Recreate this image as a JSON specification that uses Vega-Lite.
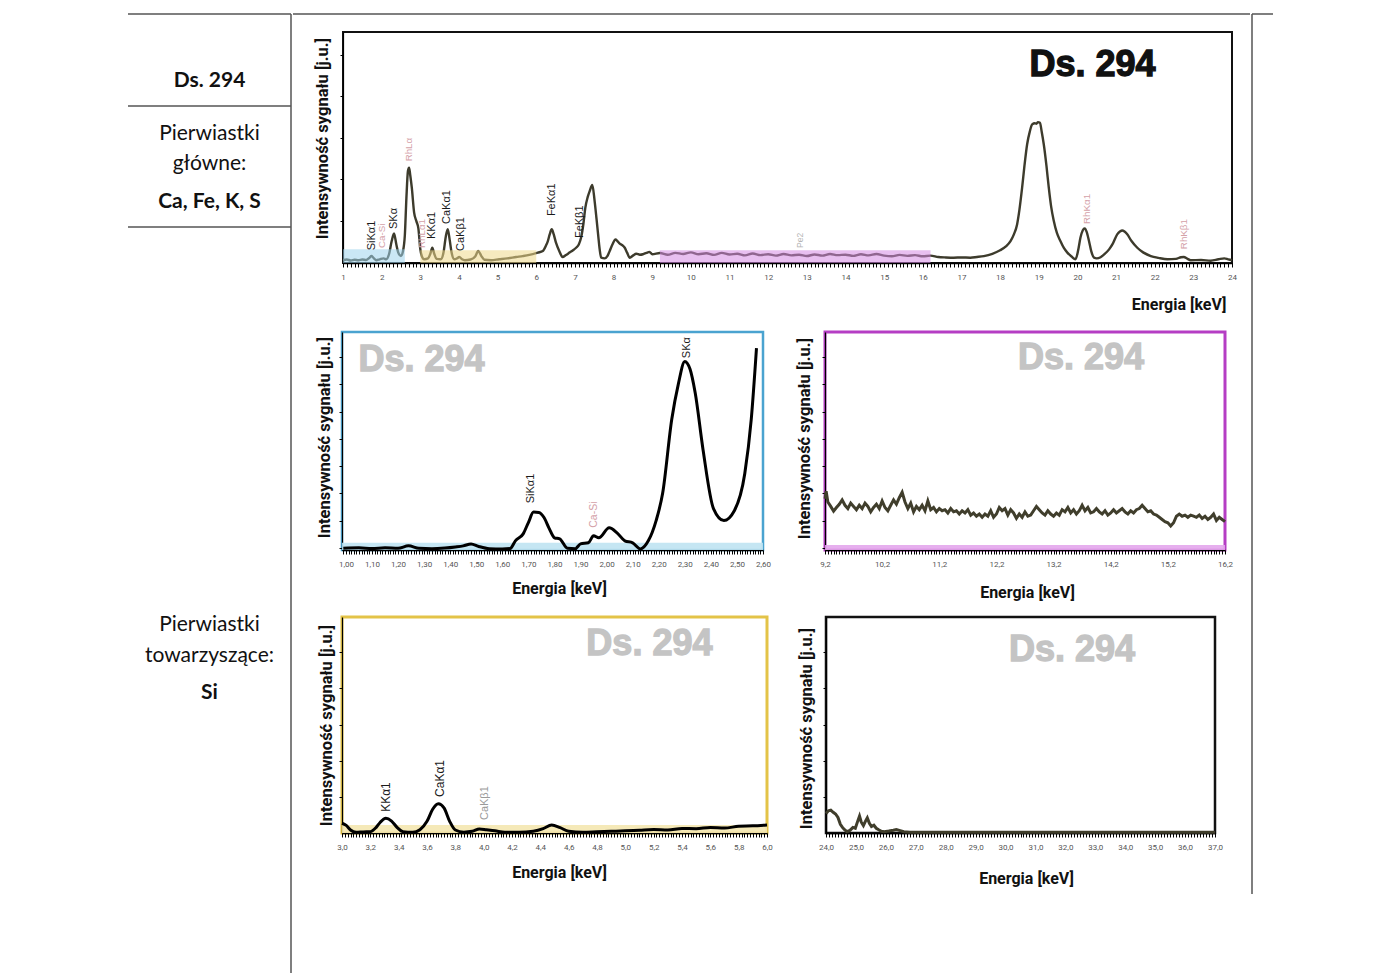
{
"$schema": "https://vega.github.io/schema/vega-lite/v6.json",
"padding": {"left": 127, "top": 13, "right": 0, "bottom": 0},
"background": "white",
"config": {"view": {"stroke": null}, "concat": {"spacing": 0}, "font": "Liberation Sans", "axis": {"grid": false}},
"spacing": 0,
"bounds": "full",
"hconcat": [
{
 "width": 163, "height": 960,
 "data": {"values": [{}]},
 "layer": [
  {"mark": {"type": "rule", "color": "#555", "strokeWidth": 1.5}, "encoding": {"y": {"datum": 0, "type": "quantitative", "scale": {"domain": [0, 960], "reverse": true}, "axis": null}}},
  {"mark": {"type": "rule", "color": "#555", "strokeWidth": 1.5}, "encoding": {"y": {"datum": 92, "type": "quantitative", "scale": {"domain": [0, 960], "reverse": true}, "axis": null}}},
  {"mark": {"type": "rule", "color": "#555", "strokeWidth": 1.5}, "encoding": {"y": {"datum": 213, "type": "quantitative", "scale": {"domain": [0, 960], "reverse": true}, "axis": null}}},
  {"mark": {"type": "rule", "color": "#555", "strokeWidth": 1.5}, "encoding": {"x": {"datum": 1, "type": "quantitative", "scale": {"domain": [0, 1]}, "axis": null}}},
  {"data": {"values": [{"t": "Ds. 294"}]}, "mark": {"type": "text", "font": "Lato", "fontSize": 21, "fontWeight": "bold", "color": "#111", "align": "center", "baseline": "middle"}, "encoding": {"text": {"field": "t"}, "x": {"datum": 0.5, "type": "quantitative", "scale": {"domain": [0, 1]}, "axis": null}, "y": {"datum": 67, "type": "quantitative", "scale": {"domain": [0, 960], "reverse": true}, "axis": null}}},
  {"data": {"values": [{"t": "Pierwiastki"}]}, "mark": {"type": "text", "font": "Lato", "fontSize": 21, "color": "#111", "align": "center", "baseline": "middle"}, "encoding": {"text": {"field": "t"}, "x": {"datum": 0.5, "type": "quantitative", "scale": {"domain": [0, 1]}, "axis": null}, "y": {"datum": 120, "type": "quantitative", "scale": {"domain": [0, 960], "reverse": true}, "axis": null}}},
  {"data": {"values": [{"t": "główne:"}]}, "mark": {"type": "text", "font": "Lato", "fontSize": 21, "color": "#111", "align": "center", "baseline": "middle"}, "encoding": {"text": {"field": "t"}, "x": {"datum": 0.5, "type": "quantitative", "scale": {"domain": [0, 1]}, "axis": null}, "y": {"datum": 150, "type": "quantitative", "scale": {"domain": [0, 960], "reverse": true}, "axis": null}}},
  {"data": {"values": [{"t": "Ca, Fe, K, S"}]}, "mark": {"type": "text", "font": "Lato", "fontSize": 21, "fontWeight": "bold", "color": "#111", "align": "center", "baseline": "middle"}, "encoding": {"text": {"field": "t"}, "x": {"datum": 0.5, "type": "quantitative", "scale": {"domain": [0, 1]}, "axis": null}, "y": {"datum": 188, "type": "quantitative", "scale": {"domain": [0, 960], "reverse": true}, "axis": null}}},
  {"data": {"values": [{"t": "Pierwiastki"}]}, "mark": {"type": "text", "font": "Lato", "fontSize": 21, "color": "#111", "align": "center", "baseline": "middle"}, "encoding": {"text": {"field": "t"}, "x": {"datum": 0.5, "type": "quantitative", "scale": {"domain": [0, 1]}, "axis": null}, "y": {"datum": 611, "type": "quantitative", "scale": {"domain": [0, 960], "reverse": true}, "axis": null}}},
  {"data": {"values": [{"t": "towarzyszące:"}]}, "mark": {"type": "text", "font": "Lato", "fontSize": 21, "color": "#111", "align": "center", "baseline": "middle"}, "encoding": {"text": {"field": "t"}, "x": {"datum": 0.5, "type": "quantitative", "scale": {"domain": [0, 1]}, "axis": null}, "y": {"datum": 642, "type": "quantitative", "scale": {"domain": [0, 960], "reverse": true}, "axis": null}}},
  {"data": {"values": [{"t": "Si"}]}, "mark": {"type": "text", "font": "Lato", "fontSize": 21, "fontWeight": "bold", "color": "#111", "align": "center", "baseline": "middle"}, "encoding": {"text": {"field": "t"}, "x": {"datum": 0.5, "type": "quantitative", "scale": {"domain": [0, 1]}, "axis": null}, "y": {"datum": 679, "type": "quantitative", "scale": {"domain": [0, 960], "reverse": true}, "axis": null}}}
 ]
},
{
 "spacing": 0,
 "bounds": "full",
 "vconcat": [
  {"width": 957, "height": 17, "data": {"values": [{}]}, "mark": {"type": "rule", "color": "#555", "strokeWidth": 1.5}, "encoding": {"y": {"datum": 1, "type": "quantitative", "scale": {"domain": [0, 1]}, "axis": null}}},
  {"spacing": 0, "bounds": "flush", "hconcat": [
   {"width": 50, "height": 298, "data": {"values": []}, "mark": "point", "encoding": {}},
   {
    "width": 889, "height": 231,
    "view": {"stroke": "#111", "strokeWidth": 2},
    "resolve": {"scale": {"color": "independent", "size": "independent"}},
    "encoding": {
     "x": {"field": "E", "type": "quantitative", "scale": {"domain": [1, 24], "nice": false, "zero": false},
       "axis": {"title": "Energia [keV]", "tickCount": 230, "tickSize": 4, "tickColor": "#000", "domainColor": "#000", "domainWidth": 1.5, "labelExpr": "abs(datum.value - round(datum.value)) < 0.001 ? format(datum.value, 'd') : ''", "labelOverlap": false, "labelFlush": false, "labelFont": "Roboto", "labelFontSize": 8, "labelColor": "#555", "labelPadding": 6, "titleFont": "Roboto", "titleFontSize": 16, "titleFontWeight": "bold", "titleColor": "#111", "titleX": 883, "titleY": 41, "titleAlign": "right", "titleBaseline": "middle"}},
     "y": {"field": "I", "type": "quantitative", "scale": {"domain": [0, 100], "nice": false, "zero": false},
       "axis": {"title": "Intensywność sygnału [j.u.]", "values": [18.2, 36.2, 54.2, 72.2, 90.2], "labels": false, "tickSize": 3, "tickColor": "#000", "domainColor": "#000", "domainWidth": 1.2, "titleFont": "Roboto", "titleFontSize": 16.5, "titleFontWeight": "bold", "titleColor": "#111", "titleX": -21, "titleY": 106, "titleAlign": "center", "titleBaseline": "middle", "titleAngle": 270}}
    },
    "layer": [
     {"data": {"values": [
      {"E":1.0,"I":1.2},{"E":1.1,"I":1.5},{"E":1.2,"I":1.1},{"E":1.3,"I":1.4},{"E":1.4,"I":1.2},{"E":1.5,"I":1.5},{"E":1.6,"I":1.3},{"E":1.68,"I":2.2},{"E":1.74,"I":3.0},{"E":1.8,"I":2.0},{"E":1.86,"I":1.2},{"E":1.95,"I":1.6},{"E":2.05,"I":2.0},{"E":2.12,"I":1.6},{"E":2.19,"I":3.8},{"E":2.26,"I":9.5},{"E":2.32,"I":12.8},{"E":2.38,"I":8},{"E":2.43,"I":4.5},{"E":2.5,"I":3.0},{"E":2.55,"I":5},{"E":2.6,"I":12},{"E":2.64,"I":28},{"E":2.68,"I":39.8},{"E":2.71,"I":41.3},{"E":2.74,"I":38},{"E":2.78,"I":32.6},{"E":2.84,"I":21.8},{"E":2.9,"I":18},{"E":2.95,"I":15},{"E":3.0,"I":6},{"E":3.05,"I":2.5},{"E":3.1,"I":1.6},{"E":3.2,"I":2.0},{"E":3.26,"I":4.0},{"E":3.31,"I":6.6},{"E":3.36,"I":4.0},{"E":3.42,"I":1.8},{"E":3.53,"I":1.6},{"E":3.6,"I":4.5},{"E":3.66,"I":11.5},{"E":3.71,"I":14.6},{"E":3.76,"I":10},{"E":3.81,"I":4.5},{"E":3.88,"I":1.6},{"E":3.95,"I":2.0},{"E":4.01,"I":2.6},{"E":4.08,"I":1.6},{"E":4.15,"I":1.2},{"E":4.3,"I":1.5},{"E":4.42,"I":2.8},{"E":4.5,"I":5.2},{"E":4.58,"I":3.0},{"E":4.66,"I":1.4},{"E":4.83,"I":1.2},{"E":5.04,"I":1.6},{"E":5.25,"I":2.0},{"E":5.48,"I":2.6},{"E":5.65,"I":3.0},{"E":5.82,"I":3.5},{"E":6.04,"I":4.5},{"E":6.17,"I":5.2},{"E":6.25,"I":7.5},{"E":6.3,"I":9.5},{"E":6.35,"I":12.5},{"E":6.4,"I":14.6},{"E":6.45,"I":12.5},{"E":6.51,"I":8.8},{"E":6.6,"I":5},{"E":6.68,"I":2.6},{"E":6.77,"I":3.5},{"E":6.86,"I":4.5},{"E":6.95,"I":5.5},{"E":7.03,"I":6.6},{"E":7.1,"I":8},{"E":7.16,"I":11},{"E":7.22,"I":17},{"E":7.27,"I":24},{"E":7.33,"I":28.5},{"E":7.38,"I":31},{"E":7.45,"I":33.8},{"E":7.51,"I":26.8},{"E":7.56,"I":19},{"E":7.6,"I":12.4},{"E":7.64,"I":6},{"E":7.68,"I":2.3},{"E":7.77,"I":2.0},{"E":7.84,"I":3.0},{"E":7.9,"I":5.2},{"E":7.97,"I":8},{"E":8.05,"I":10.2},{"E":8.1,"I":9.5},{"E":8.16,"I":8.4},{"E":8.22,"I":7.8},{"E":8.29,"I":6.6},{"E":8.35,"I":4.5},{"E":8.42,"I":2.3},{"E":8.5,"I":3.2},{"E":8.59,"I":4.0},{"E":8.68,"I":3.6},{"E":8.76,"I":3.8},{"E":8.85,"I":4.4},{"E":8.93,"I":4.8},
      {"E":9.0,"I":3.8},{"E":9.2,"I":4.3},{"E":9.4,"I":3.6},{"E":9.6,"I":4.4},{"E":9.8,"I":3.9},{"E":10.0,"I":4.6},{"E":10.2,"I":3.8},{"E":10.4,"I":4.2},{"E":10.6,"I":3.5},{"E":10.8,"I":4.4},{"E":11.0,"I":3.7},{"E":11.2,"I":4.0},{"E":11.4,"I":3.3},{"E":11.6,"I":4.1},{"E":11.8,"I":3.4},{"E":12.0,"I":3.8},{"E":12.2,"I":3.2},{"E":12.4,"I":3.9},{"E":12.6,"I":3.3},{"E":12.8,"I":3.6},{"E":13.0,"I":3.0},{"E":13.2,"I":3.7},{"E":13.4,"I":3.2},{"E":13.6,"I":3.9},{"E":13.8,"I":3.4},{"E":14.0,"I":3.6},{"E":14.2,"I":3.1},{"E":14.4,"I":3.8},{"E":14.6,"I":3.3},{"E":14.8,"I":3.9},{"E":15.0,"I":3.2},{"E":15.2,"I":2.9},{"E":15.4,"I":3.5},{"E":15.6,"I":3.1},{"E":15.8,"I":3.4},{"E":16.0,"I":2.9},{"E":16.2,"I":3.2},
      {"E":16.4,"I":2.6},{"E":16.6,"I":2.4},{"E":16.8,"I":2.3},{"E":17.0,"I":2.4},{"E":17.23,"I":2.3},{"E":17.4,"I":2.6},{"E":17.58,"I":3.0},{"E":17.8,"I":4.0},{"E":18.0,"I":5.5},{"E":18.15,"I":7.2},{"E":18.27,"I":9.5},{"E":18.36,"I":12.5},{"E":18.44,"I":16.7},{"E":18.5,"I":23},{"E":18.57,"I":32.6},{"E":18.63,"I":42},{"E":18.7,"I":51.4},{"E":18.77,"I":57},{"E":18.83,"I":60},{"E":18.9,"I":60.5},{"E":18.94,"I":60.3},{"E":18.98,"I":61},{"E":19.03,"I":60.7},{"E":19.08,"I":56.5},{"E":19.13,"I":51.4},{"E":19.2,"I":42},{"E":19.26,"I":32.6},{"E":19.32,"I":24.5},{"E":19.39,"I":18.2},{"E":19.47,"I":13},{"E":19.56,"I":9.5},{"E":19.65,"I":6.5},{"E":19.74,"I":4.5},{"E":19.85,"I":2.8},{"E":19.95,"I":1.6},{"E":20.02,"I":5.5},{"E":20.08,"I":11},{"E":20.14,"I":14.2},{"E":20.19,"I":15},{"E":20.24,"I":13.5},{"E":20.3,"I":9.5},{"E":20.36,"I":5.0},{"E":20.43,"I":2.3},{"E":20.5,"I":2.0},{"E":20.6,"I":2.5},{"E":20.7,"I":3.8},{"E":20.82,"I":5.9},{"E":20.92,"I":8.5},{"E":21.03,"I":12.4},{"E":21.1,"I":13.6},{"E":21.16,"I":14.1},{"E":21.22,"I":13.6},{"E":21.29,"I":12.4},{"E":21.4,"I":9.5},{"E":21.55,"I":6.6},{"E":21.7,"I":4.6},{"E":21.9,"I":3.0},{"E":22.1,"I":2.2},{"E":22.33,"I":1.6},{"E":22.55,"I":1.8},{"E":22.68,"I":2.5},{"E":22.75,"I":2.6},{"E":22.85,"I":1.8},{"E":22.93,"I":1.2},{"E":23.2,"I":1.3},{"E":23.45,"I":1.0},{"E":23.65,"I":1.6},{"E":23.8,"I":2.0},{"E":23.9,"I":1.6},{"E":24.0,"I":1.2}
     ]}, "mark": {"type": "line", "color": "#3d3b2c", "strokeWidth": 2.4, "interpolate": "monotone"}},
     {"data": {"values": [{"E":1,"E2":2.6,"I":0,"I2":6,"c":"blue"},{"E":3,"E2":6,"I":0,"I2":5.5,"c":"yellow"},{"E":9.2,"E2":16.2,"I":0,"I2":5.5,"c":"magenta"}]},
      "mark": {"type": "rect", "opacity": 0.55},
      "encoding": {"x2": {"field": "E2"}, "y2": {"field": "I2"}, "color": {"field": "c", "type": "nominal", "scale": {"domain": ["blue", "yellow", "magenta"], "range": ["#9fd3ec", "#efd98a", "#d68ae3"]}, "legend": null}}},
     {"data": {"values": [
      {"label":"SiKα1","E":1.76,"I":5.5,"kind":"main"},{"label":"Ca-Si","E":2.0,"I":6.5,"kind":"rh"},{"label":"SKα","E":2.32,"I":14.7,"kind":"main"},{"label":"RhLα","E":2.71,"I":44,"kind":"rh"},{"label":"RhLα1","E":3.05,"I":6.5,"kind":"rh"},{"label":"KKα1","E":3.31,"I":10.4,"kind":"main"},{"label":"CaKα1","E":3.7,"I":16.9,"kind":"main"},{"label":"CaKβ1","E":4.06,"I":5.2,"kind":"main"},{"label":"FeKα1","E":6.42,"I":20.3,"kind":"main"},{"label":"FeKβ1","E":7.12,"I":10.8,"kind":"main"},{"label":"Pe2","E":12.82,"I":6.5,"kind":"aux"},{"label":"RhKα1","E":20.26,"I":16.9,"kind":"rh"},{"label":"RhKβ1","E":22.75,"I":6,"kind":"rh"}
     ]},
      "mark": {"type": "text", "angle": 270, "align": "left", "baseline": "middle", "font": "Liberation Sans"},
      "encoding": {"text": {"field": "label"}, "color": {"field": "kind", "type": "nominal", "scale": {"domain": ["main", "rh", "aux"], "range": ["#1a1a1a", "#d4a1a8", "#b5b5b5"]}, "legend": null}, "size": {"field": "kind", "type": "ordinal", "scale": {"domain": ["main", "rh", "aux"], "range": [11, 8.5, 7]}, "legend": null}}},
     {"data": {"values": [{"label": "Ds. 294", "E": 20.39, "I": 85.7}]}, "mark": {"type": "text", "font": "Liberation Sans", "fontSize": 36, "fontWeight": "bold", "color": "#111", "stroke": "#111", "strokeWidth": 1.3, "align": "center", "baseline": "middle"}, "encoding": {"text": {"field": "label"}}}
    ]
   }
  ]},
  {"spacing": 0, "bounds": "flush", "hconcat": [
   {"width": 49, "height": 283, "data": {"values": []}, "mark": "point", "encoding": {}},
   {
    "width": 421, "height": 218,
    "view": {"stroke": "#4aa3d0", "strokeWidth": 2.5},
    "resolve": {"scale": {"color": "independent", "size": "independent"}},
    "encoding": {
     "x": {"field": "E", "type": "quantitative", "scale": {"domain": [0.985, 2.6], "nice": false, "zero": false},
       "axis": {"title": "Energia [keV]", "tickCount": 160, "tickSize": 4, "tickColor": "#000", "domainColor": "#000", "domainWidth": 1.5, "labelExpr": "abs(datum.value*10 - round(datum.value*10)) < 0.001 ? replace(format(datum.value, '.2f'), '.', ',') : ''", "labelOverlap": false, "labelFlush": false, "labelFont": "Roboto", "labelFontSize": 8, "labelColor": "#555", "labelPadding": 6, "titleFont": "Roboto", "titleFontSize": 16, "titleFontWeight": "bold", "titleColor": "#111", "titleX": 217, "titleY": 38, "titleAlign": "center", "titleBaseline": "middle"}},
     "y": {"field": "I", "type": "quantitative", "scale": {"domain": [0, 100], "nice": false, "zero": false},
       "axis": {"title": "Intensywność sygnału [j.u.]", "values": [1, 13.5, 26, 38.5, 51, 63.5, 76, 88.5], "labels": false, "tickSize": 3, "tickColor": "#000", "domainColor": "#000", "domainWidth": 1.2, "titleFont": "Roboto", "titleFontSize": 16.5, "titleFontWeight": "bold", "titleColor": "#111", "titleX": -18, "titleY": 105, "titleAlign": "center", "titleBaseline": "middle", "titleAngle": 270}}
    },
    "layer": [
     {"data": {"values": [{"E": 0.985, "E2": 2.6, "I": 0, "I2": 3.3}]}, "mark": {"type": "rect", "color": "#bfe3f2", "opacity": 0.9}, "encoding": {"x2": {"field": "E2"}, "y2": {"field": "I2"}}},
     {"data": {"values": [
      {"E":0.99,"I":0.8},{"E":1.05,"I":1.0},{"E":1.1,"I":0.7},{"E":1.15,"I":1.0},{"E":1.2,"I":0.8},{"E":1.24,"I":1.9},{"E":1.28,"I":0.8},{"E":1.33,"I":0.6},{"E":1.38,"I":0.9},{"E":1.42,"I":1.4},{"E":1.45,"I":1.9},{"E":1.48,"I":2.8},{"E":1.51,"I":1.6},{"E":1.55,"I":0.6},{"E":1.6,"I":0.5},{"E":1.63,"I":0.7},{"E":1.65,"I":4.2},{"E":1.68,"I":7.4},{"E":1.7,"I":12.6},{"E":1.72,"I":17.4},{"E":1.74,"I":17.2},{"E":1.76,"I":14.9},{"E":1.78,"I":9.8},{"E":1.8,"I":5.6},{"E":1.82,"I":5.1},{"E":1.85,"I":0.8},{"E":1.88,"I":0.6},{"E":1.9,"I":2.8},{"E":1.93,"I":3.3},{"E":1.95,"I":6.5},{"E":1.97,"I":5.6},{"E":2.01,"I":10.2},{"E":2.04,"I":7.9},{"E":2.07,"I":4.2},{"E":2.1,"I":3.3},{"E":2.13,"I":0.5},{"E":2.16,"I":4.2},{"E":2.19,"I":13.5},{"E":2.215,"I":26},{"E":2.25,"I":60},{"E":2.275,"I":76},{"E":2.3,"I":86.5},{"E":2.32,"I":83},{"E":2.34,"I":72},{"E":2.37,"I":46},{"E":2.41,"I":19},{"E":2.45,"I":13.5},{"E":2.49,"I":18},{"E":2.53,"I":35},{"E":2.555,"I":60},{"E":2.575,"I":92.6}
     ]}, "mark": {"type": "line", "color": "#000", "strokeWidth": 3, "interpolate": "monotone"}},
     {"data": {"values": [{"label":"SiKα1","E":1.71,"I":21.4,"kind":"main"},{"label":"Ca-Si","E":1.95,"I":10.2,"kind":"rh"},{"label":"SKα","E":2.31,"I":88,"kind":"main"}]},
      "mark": {"type": "text", "angle": 270, "align": "left", "baseline": "middle", "font": "Liberation Sans"},
      "encoding": {"text": {"field": "label"}, "color": {"field": "kind", "type": "nominal", "scale": {"domain": ["main", "rh", "aux"], "range": ["#1a1a1a", "#d4a1a8", "#9a9a9a"]}, "legend": null}, "size": {"field": "kind", "type": "ordinal", "scale": {"domain": ["main", "rh", "aux"], "range": [11, 10, 11]}, "legend": null}}},
     {"data": {"values": [{"label": "Ds. 294", "E": 1.29, "I": 87}]}, "mark": {"type": "text", "font": "Liberation Sans", "fontSize": 36, "fontWeight": "bold", "color": "#c4c4c4", "stroke": "#c4c4c4", "strokeWidth": 1.3, "align": "center", "baseline": "middle"}, "encoding": {"text": {"field": "label"}}}
    ]
   },
   {"width": 62, "height": 1, "data": {"values": []}, "mark": "point", "encoding": {}},
   {
    "width": 400, "height": 218,
    "view": {"stroke": "#b53ec4", "strokeWidth": 3},
    "encoding": {
     "x": {"field": "E", "type": "quantitative", "scale": {"domain": [9.2, 16.2], "nice": false, "zero": false},
       "axis": {"title": "Energia [keV]", "tickCount": 140, "tickSize": 4, "tickColor": "#000", "domainColor": "#000", "domainWidth": 1.5, "labelExpr": "abs((datum.value - 0.2) - round(datum.value - 0.2)) < 0.001 ? replace(format(datum.value, '.1f'), '.', ',') : ''", "labelOverlap": false, "labelFlush": false, "labelFont": "Roboto", "labelFontSize": 8, "labelColor": "#555", "labelPadding": 6, "titleFont": "Roboto", "titleFontSize": 16, "titleFontWeight": "bold", "titleColor": "#111", "titleX": 202, "titleY": 42, "titleAlign": "center", "titleBaseline": "middle"}},
     "y": {"field": "I", "type": "quantitative", "scale": {"domain": [0, 100], "nice": false, "zero": false},
       "axis": {"title": "Intensywność sygnału [j.u.]", "values": [1, 13.5, 26, 38.5, 51, 63.5, 76, 88.5], "labels": false, "tickSize": 3, "tickColor": "#000", "domainColor": "#000", "domainWidth": 1.2, "titleFont": "Roboto", "titleFontSize": 16.5, "titleFontWeight": "bold", "titleColor": "#111", "titleX": -21, "titleY": 106, "titleAlign": "center", "titleBaseline": "middle", "titleAngle": 270}}
    },
    "layer": [
     {"data": {"values": [{"E": 9.2, "E2": 16.2, "I": 0, "I2": 2.3}]}, "mark": {"type": "rect", "color": "#e3a6ec", "opacity": 0.9}, "encoding": {"x2": {"field": "E2"}, "y2": {"field": "I2"}}},
     {"data": {"values": [
      {"E":9.2,"I":23.5},{"E":9.22,"I":27},{"E":9.25,"I":22},{"E":9.3,"I":20},{"E":9.35,"I":17.8},{"E":9.4,"I":19.5},{"E":9.45,"I":21},{"E":9.5,"I":23},{"E":9.55,"I":20.5},{"E":9.6,"I":19},{"E":9.65,"I":21.5},{"E":9.7,"I":20},{"E":9.75,"I":18.5},{"E":9.8,"I":20.5},{"E":9.85,"I":19},{"E":9.9,"I":21.5},{"E":9.95,"I":20},{"E":10.0,"I":17.5},{"E":10.05,"I":19.5},{"E":10.1,"I":21},{"E":10.15,"I":19},{"E":10.2,"I":22.5},{"E":10.25,"I":19.5},{"E":10.3,"I":18},{"E":10.35,"I":20.5},{"E":10.4,"I":23},{"E":10.45,"I":21},{"E":10.5,"I":24},{"E":10.55,"I":26.5},{"E":10.6,"I":22},{"E":10.65,"I":19},{"E":10.7,"I":21.5},{"E":10.75,"I":17.5},{"E":10.8,"I":20},{"E":10.85,"I":18.5},{"E":10.9,"I":20.5},{"E":10.95,"I":18},{"E":11.0,"I":22.5},{"E":11.05,"I":18.5},{"E":11.1,"I":19.5},{"E":11.15,"I":17.5},{"E":11.2,"I":19},{"E":11.25,"I":18},{"E":11.3,"I":18.5},{"E":11.35,"I":17},{"E":11.4,"I":19},{"E":11.45,"I":17.5},{"E":11.5,"I":18},{"E":11.55,"I":16.5},{"E":11.6,"I":18},{"E":11.65,"I":17},{"E":11.7,"I":18.5},{"E":11.75,"I":16},{"E":11.8,"I":17},{"E":11.85,"I":15.5},{"E":11.9,"I":16.5},{"E":11.95,"I":15},{"E":12.0,"I":16.5},{"E":12.05,"I":15.5},{"E":12.1,"I":18},{"E":12.15,"I":15},{"E":12.2,"I":16.5},{"E":12.25,"I":19.5},{"E":12.3,"I":18},{"E":12.35,"I":19},{"E":12.4,"I":16},{"E":12.45,"I":18.5},{"E":12.5,"I":17},{"E":12.55,"I":14.5},{"E":12.6,"I":16.5},{"E":12.65,"I":15},{"E":12.7,"I":17.5},{"E":12.75,"I":15.5},{"E":12.8,"I":16},{"E":12.85,"I":18},{"E":12.9,"I":20},{"E":12.95,"I":18.5},{"E":13.0,"I":17},{"E":13.05,"I":16},{"E":13.1,"I":18},{"E":13.15,"I":16.5},{"E":13.2,"I":15.5},{"E":13.25,"I":17},{"E":13.3,"I":16},{"E":13.35,"I":18.5},{"E":13.4,"I":17.5},{"E":13.45,"I":19.5},{"E":13.5,"I":17},{"E":13.55,"I":18.5},{"E":13.6,"I":16.5},{"E":13.65,"I":18},{"E":13.7,"I":20.5},{"E":13.75,"I":18},{"E":13.8,"I":19.5},{"E":13.85,"I":17},{"E":13.9,"I":17.5},{"E":13.95,"I":19},{"E":14.0,"I":17.5},{"E":14.05,"I":16.5},{"E":14.1,"I":18},{"E":14.15,"I":16},{"E":14.2,"I":17},{"E":14.25,"I":18.5},{"E":14.3,"I":17},{"E":14.35,"I":18},{"E":14.4,"I":19},{"E":14.45,"I":17.5},{"E":14.5,"I":16.5},{"E":14.55,"I":18},{"E":14.6,"I":17},{"E":14.65,"I":18.5},{"E":14.7,"I":19},{"E":14.75,"I":20.5},{"E":14.8,"I":19},{"E":14.85,"I":17.5},{"E":14.9,"I":18},{"E":14.95,"I":16.5},{"E":15.0,"I":16},{"E":15.05,"I":15},{"E":15.1,"I":14},{"E":15.15,"I":13},{"E":15.2,"I":12.5},{"E":15.25,"I":11},{"E":15.3,"I":12.5},{"E":15.35,"I":15.5},{"E":15.4,"I":16.5},{"E":15.45,"I":15.5},{"E":15.5,"I":16},{"E":15.55,"I":15},{"E":15.6,"I":16},{"E":15.65,"I":15.5},{"E":15.7,"I":15},{"E":15.75,"I":16},{"E":15.8,"I":14.5},{"E":15.85,"I":15.5},{"E":15.9,"I":14},{"E":15.95,"I":15},{"E":16.0,"I":16.5},{"E":16.05,"I":13.5},{"E":16.1,"I":15},{"E":16.15,"I":14},{"E":16.2,"I":13}
     ]}, "mark": {"type": "line", "color": "#403e2c", "strokeWidth": 3}},
     {"data": {"values": [{"label": "Ds. 294", "E": 13.68, "I": 88}]}, "mark": {"type": "text", "font": "Liberation Sans", "fontSize": 36, "fontWeight": "bold", "color": "#c4c4c4", "stroke": "#c4c4c4", "strokeWidth": 1.3, "align": "center", "baseline": "middle"}, "encoding": {"text": {"field": "label"}}}
    ]
   }
  ]},
  {"spacing": 0, "bounds": "flush", "hconcat": [
   {"width": 49, "height": 1, "data": {"values": []}, "mark": "point", "encoding": {}},
   {
    "width": 425, "height": 216,
    "view": {"stroke": "#e3c348", "strokeWidth": 3},
    "resolve": {"scale": {"color": "independent", "size": "independent"}},
    "encoding": {
     "x": {"field": "E", "type": "quantitative", "scale": {"domain": [3, 6], "nice": false, "zero": false},
       "axis": {"title": "Energia [keV]", "tickCount": 150, "tickSize": 4, "tickColor": "#000", "domainColor": "#000", "domainWidth": 1.5, "labelExpr": "abs(datum.value*5 - round(datum.value*5)) < 0.001 ? replace(format(datum.value, '.1f'), '.', ',') : ''", "labelOverlap": false, "labelFlush": false, "labelFont": "Roboto", "labelFontSize": 8, "labelColor": "#555", "labelPadding": 6, "titleFont": "Roboto", "titleFontSize": 16, "titleFontWeight": "bold", "titleColor": "#111", "titleX": 217, "titleY": 39, "titleAlign": "center", "titleBaseline": "middle"}},
     "y": {"field": "I", "type": "quantitative", "scale": {"domain": [0, 100], "nice": false, "zero": false},
       "axis": {"title": "Intensywność sygnału [j.u.]", "values": [16.7, 33.5, 50.2, 67, 83.7], "labels": false, "tickSize": 3, "tickColor": "#000", "domainColor": "#000", "domainWidth": 1.2, "titleFont": "Roboto", "titleFontSize": 16.5, "titleFontWeight": "bold", "titleColor": "#111", "titleX": -16, "titleY": 108, "titleAlign": "center", "titleBaseline": "middle", "titleAngle": 270}}
    },
    "layer": [
     {"data": {"values": [{"E": 3, "E2": 6, "I": 0, "I2": 3.7}]}, "mark": {"type": "rect", "color": "#f4e7b0", "opacity": 0.9}, "encoding": {"x2": {"field": "E2"}, "y2": {"field": "I2"}}},
     {"data": {"values": [
      {"E":3.0,"I":4.5},{"E":3.03,"I":3.5},{"E":3.06,"I":1.4},{"E":3.1,"I":0.3},{"E":3.15,"I":0.5},{"E":3.2,"I":0.6},{"E":3.24,"I":2.5},{"E":3.27,"I":5.0},{"E":3.31,"I":6.8},{"E":3.35,"I":5.5},{"E":3.39,"I":2.5},{"E":3.43,"I":0.6},{"E":3.5,"I":0.3},{"E":3.55,"I":1.5},{"E":3.6,"I":5.4},{"E":3.64,"I":11},{"E":3.68,"I":13.5},{"E":3.72,"I":11.6},{"E":3.76,"I":5.4},{"E":3.8,"I":1.4},{"E":3.86,"I":0.4},{"E":3.92,"I":0.8},{"E":3.97,"I":1.9},{"E":4.02,"I":1.5},{"E":4.08,"I":1.0},{"E":4.15,"I":0.3},{"E":4.25,"I":0.3},{"E":4.35,"I":0.8},{"E":4.42,"I":2.0},{"E":4.48,"I":3.7},{"E":4.54,"I":2.5},{"E":4.6,"I":0.8},{"E":4.7,"I":0.4},{"E":4.8,"I":0.6},{"E":4.9,"I":0.8},{"E":5.0,"I":1.0},{"E":5.1,"I":1.3},{"E":5.2,"I":1.6},{"E":5.3,"I":1.4},{"E":5.4,"I":2.1},{"E":5.5,"I":2.0},{"E":5.6,"I":2.6},{"E":5.7,"I":2.3},{"E":5.8,"I":3.1},{"E":5.9,"I":3.3},{"E":6.0,"I":3.7}
     ]}, "mark": {"type": "line", "color": "#000", "strokeWidth": 3, "interpolate": "monotone"}},
     {"data": {"values": [{"label":"KKα1","E":3.31,"I":9.8,"kind":"main"},{"label":"CaKα1","E":3.69,"I":16.7,"kind":"main"},{"label":"CaKβ1","E":4.01,"I":6,"kind":"aux"}]},
      "mark": {"type": "text", "angle": 270, "align": "left", "baseline": "middle", "font": "Liberation Sans"},
      "encoding": {"text": {"field": "label"}, "color": {"field": "kind", "type": "nominal", "scale": {"domain": ["main", "rh", "aux"], "range": ["#1a1a1a", "#d4a1a8", "#9a9a9a"]}, "legend": null}, "size": {"field": "kind", "type": "ordinal", "scale": {"domain": ["main", "rh", "aux"], "range": [12, 11, 12]}, "legend": null}}},
     {"data": {"values": [{"label": "Ds. 294", "E": 5.17, "I": 87.4}]}, "mark": {"type": "text", "font": "Liberation Sans", "fontSize": 36, "fontWeight": "bold", "color": "#c4c4c4", "stroke": "#c4c4c4", "strokeWidth": 1.3, "align": "center", "baseline": "middle"}, "encoding": {"text": {"field": "label"}}}
    ]
   },
   {"width": 59, "height": 1, "data": {"values": []}, "mark": "point", "encoding": {}},
   {
    "width": 389, "height": 216,
    "view": {"stroke": "#111", "strokeWidth": 2.5},
    "encoding": {
     "x": {"field": "E", "type": "quantitative", "scale": {"domain": [24, 37], "nice": false, "zero": false},
       "axis": {"title": "Energia [keV]", "tickCount": 130, "tickSize": 4, "tickColor": "#000", "domainColor": "#000", "domainWidth": 1.5, "labelExpr": "abs(datum.value - round(datum.value)) < 0.001 ? replace(format(datum.value, '.1f'), '.', ',') : ''", "labelOverlap": false, "labelFlush": false, "labelFont": "Roboto", "labelFontSize": 8, "labelColor": "#555", "labelPadding": 6, "titleFont": "Roboto", "titleFontSize": 16, "titleFontWeight": "bold", "titleColor": "#111", "titleX": 200, "titleY": 45, "titleAlign": "center", "titleBaseline": "middle"}},
     "y": {"field": "I", "type": "quantitative", "scale": {"domain": [0, 100], "nice": false, "zero": false},
       "axis": {"title": "Intensywność sygnału [j.u.]", "values": [16.7, 33.5, 50.2, 67, 83.7], "labels": false, "tickSize": 3, "tickColor": "#000", "domainColor": "#000", "domainWidth": 1.2, "titleFont": "Roboto", "titleFontSize": 16.5, "titleFontWeight": "bold", "titleColor": "#111", "titleX": -20, "titleY": 111, "titleAlign": "center", "titleBaseline": "middle", "titleAngle": 270}}
    },
    "layer": [
     {"data": {"values": [
      {"E":24.0,"I":9.0},{"E":24.08,"I":10.3},{"E":24.16,"I":10.6},{"E":24.24,"I":9.6},{"E":24.32,"I":8.8},{"E":24.4,"I":7.2},{"E":24.48,"I":4.0},{"E":24.55,"I":2.6},{"E":24.62,"I":1.5},{"E":24.7,"I":0.6},{"E":24.8,"I":1.2},{"E":24.9,"I":2.6},{"E":24.98,"I":2.2},{"E":25.06,"I":5.5},{"E":25.12,"I":7.8},{"E":25.18,"I":5.0},{"E":25.25,"I":3.4},{"E":25.32,"I":5.5},{"E":25.38,"I":7.0},{"E":25.45,"I":4.5},{"E":25.52,"I":3.0},{"E":25.6,"I":3.6},{"E":25.68,"I":2.2},{"E":25.76,"I":1.5},{"E":25.85,"I":0.8},{"E":25.95,"I":0.6},{"E":26.1,"I":0.9},{"E":26.25,"I":1.3},{"E":26.35,"I":1.6},{"E":26.45,"I":1.2},{"E":26.6,"I":0.6},{"E":26.8,"I":0.4},{"E":27.0,"I":0.3},{"E":28.0,"I":0.3},{"E":30.0,"I":0.3},{"E":32.0,"I":0.3},{"E":34.0,"I":0.3},{"E":37.0,"I":0.3}
     ]}, "mark": {"type": "line", "color": "#403e2c", "strokeWidth": 3}},
     {"data": {"values": [{"label": "Ds. 294", "E": 32.22, "I": 84.8}]}, "mark": {"type": "text", "font": "Liberation Sans", "fontSize": 36, "fontWeight": "bold", "color": "#c4c4c4", "stroke": "#c4c4c4", "strokeWidth": 1.3, "align": "center", "baseline": "middle"}, "encoding": {"text": {"field": "label"}}}
    ]
   }
  ]}
 ]
},
{
 "width": 21, "height": 880,
 "data": {"values": [{}]},
 "layer": [
  {"mark": {"type": "rule", "color": "#555", "strokeWidth": 1.5}, "encoding": {"y": {"datum": 1, "type": "quantitative", "scale": {"domain": [0, 1]}, "axis": null}}},
  {"mark": {"type": "rule", "color": "#555", "strokeWidth": 1.5}, "encoding": {"x": {"datum": 0, "type": "quantitative", "scale": {"domain": [0, 1]}, "axis": null}}}
 ]
}
]
}
